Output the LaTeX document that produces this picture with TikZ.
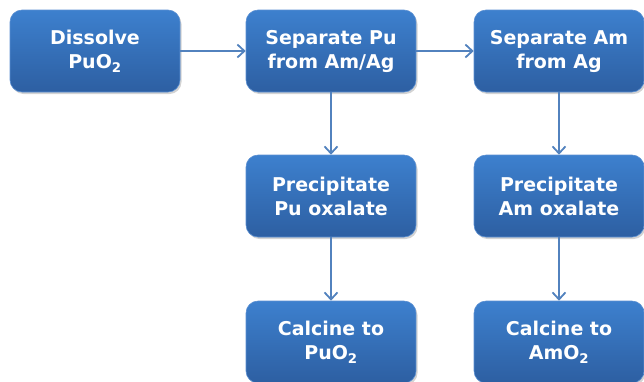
\documentclass[tikz,border=0pt]{standalone}
\usepackage{fontspec}
\setmainfont{DejaVu Sans}
\usetikzlibrary{arrows.meta,shadows}
\definecolor{boxtop}{HTML}{3D80CE}
\definecolor{boxbot}{HTML}{2D5FA2}
\definecolor{boxline}{HTML}{5A8FD2}
\definecolor{flowline}{HTML}{5282BE}
\tikzset{
  stepbox/.style={rounded corners=12pt, minimum width=170pt, minimum height=82pt,
    top color=boxtop, bottom color=boxbot, draw=boxline, line width=0.6pt,
    drop shadow={shadow xshift=1.5pt, shadow yshift=-2pt, opacity=0.35},
    text=white, align=center, font=\bfseries\fontsize{19}{24}\selectfont,
    execute at begin node={\rule{0pt}{20pt}}},
  flow/.style={draw=flowline, line width=2.4pt, -{Straight Barb[length=7pt,width=13pt,line width=1.8pt]}}
}
\begin{document}
\begin{tikzpicture}[x=1pt,y=1pt]
        \useasboundingbox (0,0) rectangle (644,-381);
        %Top row
        \node[stepbox] (dissolve) at (95,-51) {Dissolve\\PuO\textsubscript{2}};
        \node[stepbox] (seppu) at (331,-51) {Separate Pu\\from Am/Ag};
        \node[stepbox] (sepam) at (559,-51) {Separate Am\\from Ag};
        %Oxalates
        \node[stepbox] (precpu) at (331,-196) {Precipitate\\Pu oxalate};
        \node[stepbox] (precam) at (559,-196) {Precipitate\\Am oxalate};
        %Calcining
        \node[stepbox] (calcpu) at (331,-342) {Calcine to\\PuO\textsubscript{2}};
        \node[stepbox] (calcam) at (559,-342) {Calcine to\\AmO\textsubscript{2}};
        %Arrows
        \draw[flow] (dissolve) -- (seppu);
        \draw[flow] (seppu) -- (sepam);
        \draw[flow] (seppu) -- (precpu);
        \draw[flow] (precpu) -- (calcpu);
        \draw[flow] (sepam) -- (precam);
        \draw[flow] (precam) -- (calcam);
    \end{tikzpicture}
\end{document}
